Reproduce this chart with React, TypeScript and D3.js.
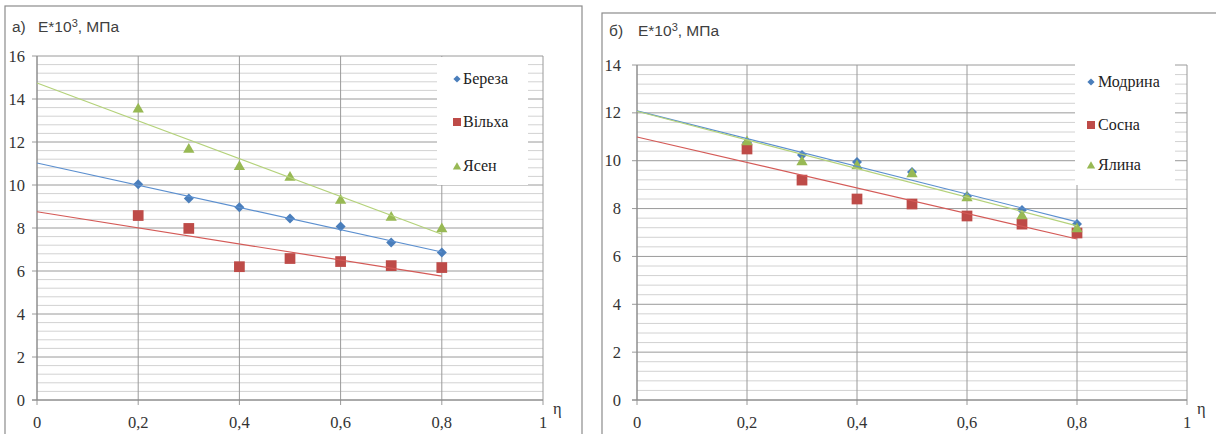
import React from "react";
import * as d3 from "d3";

// значення
const eta = [0.2, 0.3, 0.4, 0.5, 0.6, 0.7, 0.8];
const berezaE = [10.03, 9.37, 8.96, 8.44, 8.07, 7.32, 6.86];
const vilkhaE = [8.58, 7.98, 6.2, 6.58, 6.44, 6.25, 6.16];
const yasenE = [13.57, 11.7, 10.9, 10.4, 9.33, 8.53, 8.0];
const modrynaE = [10.75, 10.24, 9.95, 9.53, 8.52, 7.94, 7.35];
const sosnaE = [10.49, 9.19, 8.4, 8.19, 7.69, 7.35, 6.98];
const yalynaE = [10.82, 9.99, 9.82, 9.49, 8.48, 7.73, 7.19];

const xTicks = [0, 0.2, 0.4, 0.6, 0.8, 1];
const leftYTicks = [0, 2, 4, 6, 8, 10, 12, 14, 16];
const rightYTicks = [0, 2, 4, 6, 8, 10, 12, 14];

const BLUE = "#4a7ebb";
const RED = "#be4b48";
const GREEN = "#98b954";
const LINE = { blue: "#5b8fcf", red: "#d45a57", green: "#b4d27a" };

const serif = "Liberation Serif, Times New Roman, Tinos, Noto Serif, DejaVu Serif, FreeSerif, serif";
const sans = "Liberation Sans, Arial, sans-serif";

// лінійний тренд (найменші квадрати), як у Excel
function trend(xs: number[], ys: number[]) {
  const mx = d3.mean(xs)!;
  const my = d3.mean(ys)!;
  const sxy = d3.sum(xs, (x, i) => (x - mx) * (ys[i] - my));
  const sxx = d3.sum(xs, (x) => (x - mx) * (x - mx));
  const k = sxy / sxx;
  return { k, b: my - k * mx };
}

type Kind = "diamond" | "square" | "triangle";

function markerPath(kind: Kind, big: boolean) {
  if (kind === "diamond") return d3.symbol(d3.symbolSquare, big ? 50 : 26)()!;
  if (kind === "square") return d3.symbol(d3.symbolSquare, big ? 115 : 64)()!;
  return d3.symbol(d3.symbolTriangle, big ? 55 : 30)()!;
}

function Marker({ kind, x, y, color, big = true }: any) {
  const rot = kind === "diamond" ? " rotate(45)" : "";
  const dy = kind === "triangle" ? 1 : 0;
  return <path d={markerPath(kind, big)} fill={color} transform={`translate(${x},${y + dy})${rot}`} />;
}

interface Series { name: string; values: number[]; kind: Kind; color: string; line: string }

interface PanelProps {
  label: string;
  series: Series[];
  yTicks: number[];
  frame: { x: number; y: number; w: number };
  plot: { x0: number; x1: number; top: number; bottom: number };
  titleY: number;
  labelEnd: number;
  legend: { x: number; y: number; w: number; h: number; rows: number[]; mx: number; tx: number };
  etaX: number;
}

function Panel(p: PanelProps) {
  const yMax = p.yTicks[p.yTicks.length - 1];
  const x = d3.scaleLinear().domain([0, 1]).range([p.plot.x0, p.plot.x1]);
  const y = d3.scaleLinear().domain([0, yMax]).range([p.plot.bottom, p.plot.top]);
  const minor = d3.range(0, yMax + 0.001, 0.4).filter((v) => Math.abs(v / 2 - Math.round(v / 2)) > 0.01);
  const line = d3.line<number>().x((d) => x(d[0])).y((d) => y(d[1]));

  return (
    <g>
      <rect x={p.frame.x} y={p.frame.y} width={p.frame.w} height={500} fill="#fff" stroke="#8c8c8c" strokeWidth={1.2} />
      <text x={p.frame.x + 7} y={p.titleY} style={{ fontFamily: sans }} fontSize={15.5} fill="#404040">{p.label}</text>
      <text x={p.plot.x0 + 1} y={p.titleY} style={{ fontFamily: sans }} fontSize={15.5} fill="#404040">
        E*10<tspan fontSize={11} dy={-5}>3</tspan><tspan dy={5}>, МПа</tspan>
      </text>

      {minor.map((v) => (
        <line key={"m" + v} x1={x(0)} x2={x(1)} y1={y(v)} y2={y(v)} stroke="#d2d2d2" />
      ))}
      {p.yTicks.map((v) => (
        <line key={"g" + v} x1={x(0) - 5} x2={x(1)} y1={y(v)} y2={y(v)} stroke="#9a9a9a" />
      ))}
      {xTicks.map((v) => (
        <line key={"v" + v} x1={x(v)} x2={x(v)} y1={y(yMax)} y2={y(0) + 5} stroke="#9a9a9a" />
      ))}
      <line x1={x(0)} x2={x(0)} y1={y(yMax)} y2={y(0)} stroke="#888" />
      <line x1={x(0) - 5} x2={x(1)} y1={y(0)} y2={y(0)} stroke="#888" />

      {p.yTicks.map((v) => (
        <text key={"yl" + v} x={p.labelEnd} y={y(v) + 5.5} textAnchor="end" style={{ fontFamily: serif }} fontSize={16.5} fill="#333">{v}</text>
      ))}
      {xTicks.map((v) => (
        <text key={"xl" + v} x={x(v)} y={428} textAnchor="middle" style={{ fontFamily: serif }} fontSize={16.5} fill="#333">
          {String(v).replace(".", ",")}
        </text>
      ))}
      <text x={p.etaX} y={414} style={{ fontFamily: serif }} fontSize={16.5} fill="#333">η</text>

      {p.series.map((s) =>
        eta.map((e, i) => <Marker key={s.name + i} kind={s.kind} x={x(e)} y={y(s.values[i])} color={s.color} />)
      )}
      {p.series.map((s) => {
        const t = trend(eta, s.values);
        return <path key={"t" + s.name} d={line([[0, t.b], [0.8, t.b + 0.8 * t.k]])!} fill="none" stroke={s.line} strokeWidth={1.2} />;
      })}

      <rect x={p.legend.x} y={p.legend.y} width={p.legend.w} height={p.legend.h} fill="#fff" />
      {p.series.map((s, i) => (
        <g key={"lg" + s.name}>
          <Marker kind={s.kind} x={p.legend.mx} y={p.legend.rows[i]} color={s.color} big={false} />
          <text x={p.legend.tx} y={p.legend.rows[i] + 5} style={{ fontFamily: serif }} fontSize={16} fill="#222">{s.name}</text>
        </g>
      ))}
    </g>
  );
}

export default function App() {
  const left: Series[] = [
    { name: "Береза", values: berezaE, kind: "diamond", color: BLUE, line: LINE.blue },
    { name: "Вільха", values: vilkhaE, kind: "square", color: RED, line: LINE.red },
    { name: "Ясен", values: yasenE, kind: "triangle", color: GREEN, line: LINE.green },
  ];
  const right: Series[] = [
    { name: "Модрина", values: modrynaE, kind: "diamond", color: BLUE, line: LINE.blue },
    { name: "Сосна", values: sosnaE, kind: "square", color: RED, line: LINE.red },
    { name: "Ялина", values: yalynaE, kind: "triangle", color: GREEN, line: LINE.green },
  ];

  return (
    <div style={{ position: "absolute", left: 0, top: 0 }}>
      <svg width={1216} height={434} style={{ display: "block", background: "#fff" }}>
        <Panel
          label="а)"
          series={left}
          yTicks={leftYTicks}
          frame={{ x: 5, y: 6, w: 577 }}
          plot={{ x0: 37, x1: 543, top: 56, bottom: 400 }}
          titleY={32}
          labelEnd={25}
          legend={{ x: 437, y: 57, w: 91, h: 128, rows: [79, 122, 166], mx: 457, tx: 463 }}
          etaX={553}
        />
        <Panel
          label="б)"
          series={right}
          yTicks={rightYTicks}
          frame={{ x: 602, y: 13, w: 640 }}
          plot={{ x0: 637, x1: 1187, top: 65, bottom: 400 }}
          titleY={36}
          labelEnd={621}
          legend={{ x: 1075, y: 62, w: 100, h: 123, rows: [82, 125, 165], mx: 1091, tx: 1098 }}
          etaX={1197}
        />
      </svg>
    </div>
  );
}
